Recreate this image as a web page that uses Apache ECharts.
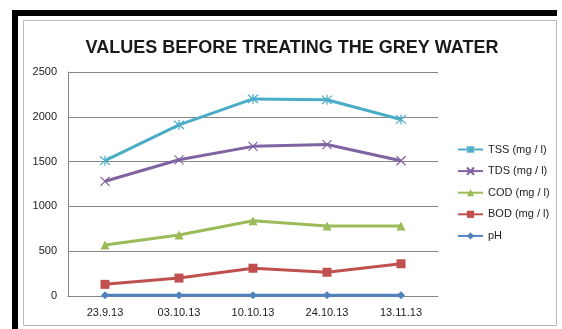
<!DOCTYPE html>
<html>
<head>
<meta charset="utf-8">
<script src="https://cdn.jsdelivr.net/npm/echarts@6/dist/echarts.min.js"></script>
<style>
html,body{margin:0;padding:0;background:#fff;}
#c{width:562px;height:329px;}
</style>
</head>
<body>
<div id="c"></div>
<script>
const categories = ['23.9.13', '03.10.13', '10.10.13', '24.10.13', '13.11.13'];
const tss = [1510, 1910, 2200, 2190, 1970];
const tds = [1280, 1520, 1670, 1690, 1510];
const cod = [570, 680, 840, 780, 780];
const bod = [130, 200, 310, 265, 360];
const ph = [7, 7, 7, 7, 7];
const seriesNames = ['TSS (mg / l)', 'TDS (mg / l)', 'COD (mg / l)', 'BOD (mg / l)', 'pH'];
const yTicks = [0, 500, 1000, 1500, 2000, 2500];

const FONT = '"Liberation Sans", Arial, sans-serif';
const asterisk = 'path://M0,0 L10,10 M10,0 L0,10 M5,-1 L5,11';
const cross = 'path://M0,0 L10,10 M10,0 L0,10';

function mk(name, data, color, symbol, size, stroke) {
  return {
    name: name, type: 'line', data: data,
    symbol: symbol, symbolSize: size,
    showAllSymbol: true,
    lineStyle: {color: color, width: 3},
    itemStyle: stroke ? {color: 'transparent', borderColor: color, borderWidth: 1.2} : {color: color, borderWidth: 0},
    emphasis: {disabled: true},
    z: 3
  };
}

const chart = echarts.init(document.getElementById('c'), null, {renderer: 'canvas'});
chart.setOption({
  animation: false,
  backgroundColor: '#fff',
  title: {
    text: 'VALUES BEFORE TREATING THE GREY WATER',
    left: 287, top: 34, textAlign: 'center',
    textStyle: {fontFamily: FONT, fontWeight: 'bold', fontSize: 18, color: '#1a1a1a'}
  },
  graphic: [
    {type: 'rect', shape: {x: 23.5, y: 20.5, width: 533, height: 305}, style: {fill: '#fff', stroke: '#b8b8b8', lineWidth: 1}, z: -10, silent: true},
    {type: 'rect', shape: {x: 12, y: 10, width: 545, height: 6}, style: {fill: '#000'}, z: 10, silent: true},
    {type: 'rect', shape: {x: 12, y: 10, width: 6, height: 319}, style: {fill: '#000'}, z: 10, silent: true}
  ],
  legend: {
    orient: 'vertical', left: 452, top: 139,
    itemWidth: 25, itemHeight: 9, itemGap: 10.6,
    data: seriesNames,
    textStyle: {fontFamily: FONT, fontSize: 11, color: '#222'},
    selectedMode: false
  },
  grid: {left: 68, right: 124, top: 72, bottom: 33, containLabel: false},
  xAxis: {
    type: 'category', data: categories, boundaryGap: true,
    axisLine: {lineStyle: {color: '#868686', width: 1}},
    axisTick: {show: false},
    axisLabel: {fontFamily: FONT, fontSize: 11, color: '#222', margin: 11}
  },
  yAxis: {
    type: 'value', min: 0, max: 2500, interval: 500,
    axisLine: {show: true, lineStyle: {color: '#868686', width: 1}},
    axisTick: {show: false},
    splitLine: {lineStyle: {color: '#868686', width: 1}},
    axisLabel: {fontFamily: FONT, fontSize: 11, color: '#222', margin: 11,
      formatter: function (v) { return yTicks.indexOf(v) >= 0 ? String(v) : ''; }}
  },
  series: [
    mk(seriesNames[0], tss, '#4BACC6', asterisk, 10, true),
    mk(seriesNames[1], tds, '#8064A2', cross, 9, true),
    mk(seriesNames[2], cod, '#9BBB59', 'triangle', 9, false),
    mk(seriesNames[3], bod, '#C0504D', 'rect', 9, false),
    mk(seriesNames[4], ph, '#4F81BD', 'diamond', 8, false)
  ]
});
</script>
</body>
</html>
